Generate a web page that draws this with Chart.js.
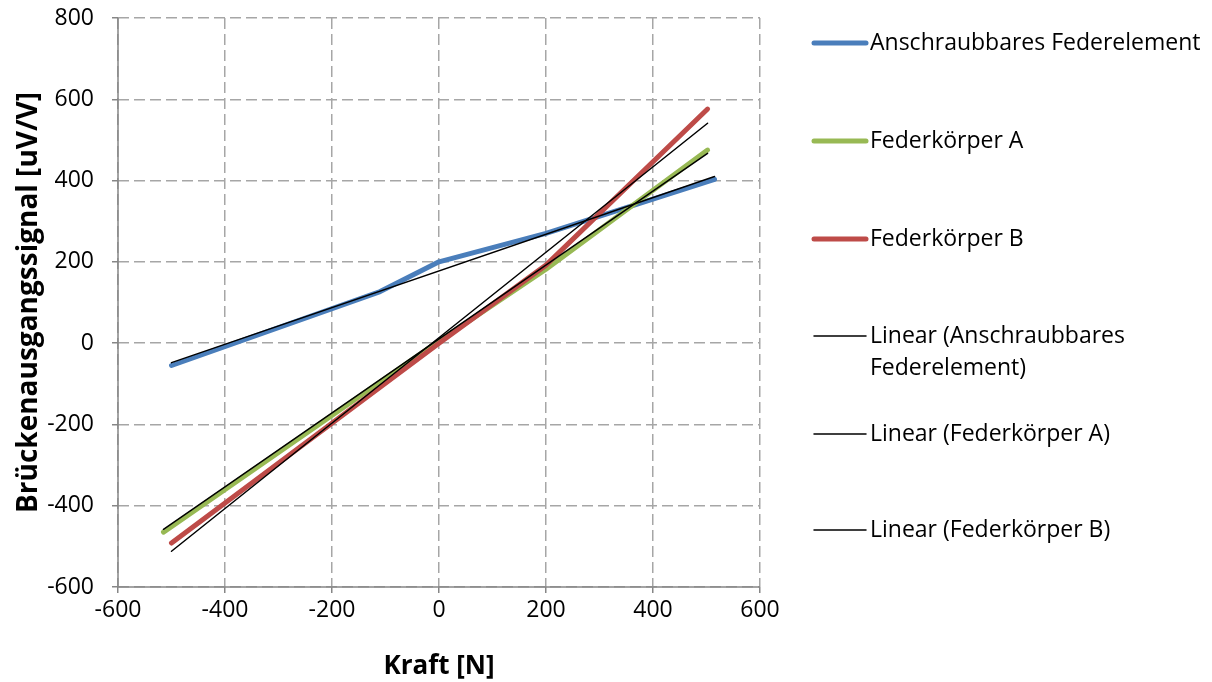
<!DOCTYPE html>
<html>
<head>
<meta charset="utf-8">
<script src="https://cdn.jsdelivr.net/npm/chart.js@4"></script>
<style>
  html, body { margin: 0; padding: 0; background: #fff; }
  #wrap { width: 1212px; height: 682px; }
</style>
</head>
<body>
<div id="wrap"><canvas id="myChart" width="1212" height="682"></canvas></div>
<script>
const blueX = [-500, -110, 0, 200, 515];
const blueY = [-55, 127, 200, 270, 403];
const greenX = [-515, 0, 200, 502];
const greenY = [-465, 5, 182, 475];
const redX = [-500, 0, 200, 502];
const redY = [-492, 0, 192, 576];

// Trendlinien-Endpunkte
const trendBlueX = [-500, 515];
const trendBlueY = [-48, 410];
const trendGreenX = [-515, 502];
const trendGreenY = [-458, 467];
const trendRedX = [-500, 502];
const trendRedY = [-512, 541];

const xTicks = [-600, -400, -200, 0, 200, 400, 600];
const yTicks = [-600, -400, -200, 0, 200, 400, 600, 800];

const labels = [
    'Anschraubbares Federelement',
    'Federkörper A',
    'Federkörper B',
    'Linear (Anschraubbares Federelement)',
    'Linear (Federkörper A)',
    'Linear (Federkörper B)'
];

const toPoints = (xs, ys) => xs.map((x, i) => ({ x: x, y: ys[i] }));

function series(label, xs, ys, color, width, order) {
    return {
        label: label,
        data: toPoints(xs, ys),
        showLine: true,
        borderColor: color,
        backgroundColor: color,
        borderWidth: width,
        borderCapStyle: 'round',
        borderJoinStyle: 'round',
        pointRadius: 0,
        tension: 0,
        order: order
    };
}

const FONT = '"Open Sans", sans-serif';
const AXIS_GRAY = '#868686';

// Legende rechts, selbst gezeichnet
const legendRows = [43, 141, 239, 336, 434, 530];
const sideLegend = {
    id: 'sideLegend',
    afterDraw(chart) {
        const ctx = chart.ctx;
        ctx.save();
        ctx.font = '23px ' + FONT;
        ctx.textBaseline = 'middle';
        ctx.fillStyle = '#000';
        chart.data.datasets.forEach((ds, i) => {
            const y = legendRows[i];
            ctx.strokeStyle = ds.borderColor;
            ctx.lineWidth = ds.borderWidth;
            ctx.lineCap = 'round';
            ctx.beginPath();
            ctx.moveTo(814, y);
            ctx.lineTo(866, y);
            ctx.stroke();
            // Zeilenumbruch
            const words = ds.label.split(' ');
            let line = '', lines = [];
            words.forEach(w => {
                const test = line ? line + ' ' + w : w;
                if (ctx.measureText(test).width > 336 && line) {
                    lines.push(line);
                    line = w;
                } else {
                    line = test;
                }
            });
            lines.push(line);
            lines.forEach((t, k) => ctx.fillText(t, 870, y + k * 32));
        });
        ctx.restore();
    }
};

// durchgezogene Achsenlinien (Gitter ist gestrichelt)
const solidAxes = {
    id: 'solidAxes',
    beforeDatasetsDraw(chart) {
        const { ctx, chartArea: a } = chart;
        ctx.save();
        ctx.strokeStyle = AXIS_GRAY;
        ctx.lineWidth = 1.5;
        ctx.setLineDash([]);
        ctx.beginPath();
        ctx.moveTo(a.left, a.top);
        ctx.lineTo(a.left, a.bottom);
        ctx.lineTo(a.right, a.bottom);
        ctx.stroke();
        ctx.restore();
    }
};

const gridOpts = {
    color: '#a6a6a6', lineWidth: 1.5,
    tickColor: AXIS_GRAY, tickLength: 6, tickBorderDash: [],
    drawTicks: true
};
const borderOpts = { display: false, dash: [11, 5] };

const ctx = document.getElementById('myChart').getContext('2d');
new Chart(ctx, {
    type: 'scatter',
    data: {
        datasets: [
            series(labels[0], blueX, blueY, '#4a7ebb', 5, 3),
            series(labels[1], greenX, greenY, '#98b954', 5, 2),
            series(labels[2], redX, redY, '#be4b48', 5, 1),
            series(labels[3], trendBlueX, trendBlueY, '#000000', 1.5, 0),
            series(labels[4], trendGreenX, trendGreenY, '#000000', 1.5, 0),
            series(labels[5], trendRedX, trendRedY, '#000000', 1.5, 0)
        ]
    },
    options: {
        responsive: false,
        animation: false,
        layout: { padding: { top: 18, right: 452, left: 0, bottom: 0 } },
        plugins: {
            legend: { display: false },
            tooltip: { enabled: false }
        },
        scales: {
            x: {
                type: 'linear',
                min: -600, max: 600,
                afterBuildTicks: s => { s.ticks = xTicks.map(v => ({ value: v })); },
                afterFit: s => { s.height = 95; s.paddingRight = 0; },
                border: borderOpts,
                grid: gridOpts,
                ticks: { color: '#000', font: { family: FONT, size: 23 }, padding: 4 },
                title: {
                    display: true, text: 'Kraft [N]', color: '#000',
                    font: { family: FONT, size: 26, weight: 'bold' },
                    padding: { top: 4, bottom: 0 }
                }
            },
            y: {
                type: 'linear',
                min: -600, max: 800,
                afterBuildTicks: s => { s.ticks = yTicks.map(v => ({ value: v })); },
                afterFit: s => { s.width = 118; s.paddingTop = 0; s.paddingBottom = 0; },
                border: borderOpts,
                grid: gridOpts,
                ticks: { color: '#000', font: { family: FONT, size: 23 }, padding: 18 },
                title: {
                    display: true, text: 'Brückenausgangssignal [uV/V]', color: '#000',
                    font: { family: FONT, size: 28, weight: 'bold' },
                    padding: { top: 12, bottom: 4 }
                }
            }
        }
    },
    plugins: [solidAxes, sideLegend]
});
</script>
</body>
</html>
